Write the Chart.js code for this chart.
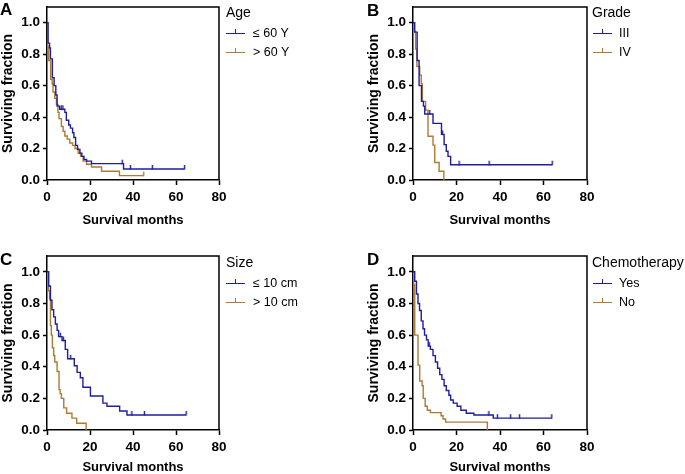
<!DOCTYPE html>
<html>
<head>
<meta charset="utf-8">
<script src="https://cdn.jsdelivr.net/npm/chart.js@4"></script>
<style>
  html,body{margin:0;padding:0;background:#fff;}
  body{width:685px;height:474px;position:relative;overflow:hidden;font-family:"Liberation Sans",Arial,sans-serif;}
  canvas{position:absolute;}
  .letter{position:absolute;font-weight:bold;font-size:17px;line-height:17px;color:#000;}
  .lgTitle{position:absolute;font-size:14px;line-height:16px;color:#000;white-space:nowrap;}
  .lgItem{position:absolute;font-size:12.5px;line-height:16px;color:#000;white-space:nowrap;}
  .lgLine{position:absolute;height:0;border-top:1.3px solid;}
  .lgTick{position:absolute;width:0;border-left:1.3px solid;height:4px;}
</style>
</head>
<body>
<script>
// ---------------- DATA ----------------
const xTicks = [0, 20, 40, 60, 80];
const yTicks = [0, 0.2, 0.4, 0.6, 0.8, 1.0];
const xTitle = "Survival months";
const yTitle = "Surviving fraction";

// Panel A: Age
const ageLowTime = [0, 0.5, 1.2, 1.6, 2.5, 3.3, 4.1, 4.7, 5.9, 6.6, 7.4, 8.3, 9.0, 10.1, 10.9, 11.9, 12.5, 13.3, 14.2, 15.3, 16.2, 17.2, 18.4, 20.7, 35.0, 35.6, 38.8, 49.0, 64.0];
const ageLowSurv = [1, 0.87, 0.84, 0.77, 0.65, 0.60, 0.54, 0.47, 0.45, 0.45, 0.45, 0.43, 0.38, 0.35, 0.33, 0.30, 0.27, 0.22, 0.195, 0.17, 0.15, 0.13, 0.12, 0.104, 0.104, 0.07, 0.07, 0.07, 0.07];
const ageLowCens = [0,0,0,0,0, 0,0,0,0,1, 1,0,0,0,0, 0,0,0,0,0, 0,0,0,0,1, 0,1,1,1];
const ageHighTime = [0, 0.3, 0.8, 1.7, 2.4, 2.8, 3.6, 4.4, 5.1, 5.6, 6.7, 7.5, 8.3, 9.4, 10.6, 11.9, 13.0, 14.5, 15.6, 16.8, 18.4, 20.7, 25.4, 33.7, 45.0];
const ageHighSurv = [1, 0.85, 0.76, 0.64, 0.61, 0.56, 0.52, 0.48, 0.43, 0.39, 0.34, 0.31, 0.28, 0.26, 0.235, 0.22, 0.20, 0.17, 0.15, 0.12, 0.10, 0.083, 0.056, 0.028, 0.028];
const ageHighCens = [0,0,0,0,0, 0,0,0,0,0, 0,0,0,0,0, 0,0,0,0,0, 0,0,0,0,1];

// Panel B: Grade
const gradeIIITime = [0, 0.8, 1.9, 2.8, 3.9, 4.8, 5.4, 7.7, 9.2, 13.1, 13.6, 14.3, 15.3, 16.1, 17.3, 21.2, 35.0, 64.0];
const gradeIIISurv = [1, 0.94, 0.76, 0.6, 0.5, 0.47, 0.42, 0.42, 0.36, 0.29, 0.29, 0.225, 0.183, 0.15, 0.097, 0.097, 0.097, 0.097];
const gradeIIICens = [0,0,0,0,0,0,0,1,0,0,1,0,0,0,0,1,1,1];
const gradeIVTime = [0, 0.5, 1.2, 1.8, 3.1, 3.8, 4.3, 5.8, 6.9, 9.2, 10.0, 12.0, 14.2];
const gradeIVSurv = [1, 0.944, 0.833, 0.722, 0.667, 0.611, 0.5, 0.444, 0.278, 0.222, 0.111, 0.056, 0];
const gradeIVCens = [0,0,0,0,0,0,0,0,0,0,0,0,0];

// Panel C: Size
const sizeSmallTime = [0, 0.8, 1.6, 2.3, 3.1, 3.9, 4.7, 5.4, 6.2, 7.0, 7.6, 8.5, 9.6, 11.0, 12.7, 14.0, 15.5, 16.7, 20.2, 26.0, 27.9, 33.8, 37.2, 39.5, 45.3, 64.7];
const sizeSmallSurv = [1, 0.91, 0.82, 0.76, 0.715, 0.67, 0.63, 0.59, 0.59, 0.566, 0.566, 0.51, 0.45, 0.45, 0.406, 0.364, 0.33, 0.27, 0.215, 0.17, 0.15, 0.12, 0.095, 0.095, 0.095, 0.095];
const sizeSmallCens = [0,0,0,0,0, 0,0,0,1,0, 1,0,0,1,0, 0,0,0,0,0, 0,0,0,1,1, 1];
const sizeLargeTime = [0, 0.6, 1.2, 1.6, 2.0, 2.5, 3.1, 3.6, 4.7, 5.6, 6.1, 6.7, 7.8, 9.1, 11.6, 13.8, 18.2];
const sizeLargeSurv = [1, 0.88, 0.83, 0.66, 0.6, 0.52, 0.47, 0.43, 0.37, 0.255, 0.23, 0.2, 0.14, 0.106, 0.075, 0.043, 0];
const sizeLargeCens = [0,0,0,0,0,0,0,0,0,0,0,0,0,0,0,0,0];

// Panel D: Chemotherapy
const chemoYesTime = [0, 0.8, 1.6, 2.3, 3.0, 3.8, 4.6, 5.3, 6.2, 7.0, 7.5, 8.0, 9.2, 10.3, 11.3, 12.3, 13.3, 14.3, 15.3, 16.5, 17.3, 18.5, 20.3, 22.0, 24.5, 28.0, 34.9, 36.9, 38.8, 44.9, 49.0, 63.8];
const chemoYesSurv = [1, 0.94, 0.86, 0.8, 0.755, 0.69, 0.64, 0.6, 0.57, 0.53, 0.53, 0.51, 0.47, 0.43, 0.39, 0.35, 0.32, 0.28, 0.25, 0.22, 0.19, 0.17, 0.15, 0.125, 0.106, 0.095, 0.095, 0.075, 0.075, 0.075, 0.075, 0.075];
const chemoYesCens = [0,0,0,0,0, 0,0,0,0,0, 1,0,0,0,0, 0,0,0,0,0, 0,0,0,0,0, 0,1,0,1,1, 1,1];
const chemoNoTime = [0, 0.3, 0.8, 2.3, 3.1, 4.2, 4.7, 5.6, 6.6, 8.0, 12.9, 13.8, 15.0, 34.2];
const chemoNoSurv = [1, 0.92, 0.6, 0.41, 0.31, 0.28, 0.2, 0.15, 0.125, 0.11, 0.09, 0.07, 0.05, 0];
const chemoNoCens = [0,0,0,0,0,0,0,0,0,0,0,0,0,0];

const panelLetters = ["A", "B", "C", "D"];
const legendTitles = ["Age", "Grade", "Size", "Chemotherapy"];
const legendLabels = [["\u2264 60 Y", "> 60 Y"], ["III", "IV"], ["\u2264 10 cm", "> 10 cm"], ["Yes", "No"]];

// ---------------- STYLE / LAYOUT ----------------
const BLUE = "#1e1ea0";
const BROWN = "#b07a30";
const FONT = "'Liberation Sans', Arial, sans-serif";

function tickImage(color) {
  const c = document.createElement("canvas");
  c.width = 3; c.height = 10;
  const g = c.getContext("2d");
  g.strokeStyle = color; g.lineWidth = 1.4;
  g.beginPath(); g.moveTo(1.5, 1); g.lineTo(1.5, 5.5); g.stroke();
  return c;
}
const tickBlue = tickImage(BLUE);
const tickBrown = tickImage(BROWN);

function series(time, surv, cens, color, img) {
  return {
    data: time.map((t, i) => ({x: t, y: surv[i]})),
    borderColor: color,
    backgroundColor: color,
    borderWidth: 1.4,
    stepped: 'before',
    fill: false,
    clip: false,
    pointStyle: img,
    pointRadius: ctx => cens[ctx.dataIndex] ? 2 : 0,
    pointHoverRadius: 0
  };
}

const boxPlugin = {
  id: 'boxBorder',
  afterDatasetsDraw(chart) {
    const a = chart.chartArea, g = chart.ctx;
    g.save();
    g.strokeStyle = '#000'; g.lineWidth = 1.5;
    g.beginPath();
    g.moveTo(a.left, a.top); g.lineTo(a.right, a.top); g.lineTo(a.right, a.bottom);
    g.stroke();
    g.restore();
  }
};

const panels = [
  {left: 0,   top: 0,   width: 232, height: 235, xh: 55, sets: [[ageLowTime, ageLowSurv, ageLowCens], [ageHighTime, ageHighSurv, ageHighCens]], lg: {x: 226, y: 0, lx: 226, tx: 253}, letter: {x: 0, y: 1}},
  {left: 366, top: 0,   width: 234, height: 235, xh: 55, sets: [[gradeIIITime, gradeIIISurv, gradeIIICens], [gradeIVTime, gradeIVSurv, gradeIVCens]], lg: {x: 592, y: 0, lx: 593, tx: 619}, letter: {x: 367, y: 2}},
  {left: 0,   top: 249, width: 232, height: 233, xh: 52, sets: [[sizeSmallTime, sizeSmallSurv, sizeSmallCens], [sizeLargeTime, sizeLargeSurv, sizeLargeCens]], lg: {x: 226, y: 250, lx: 226, tx: 253}, letter: {x: 0, y: 251}},
  {left: 366, top: 249, width: 234, height: 233, xh: 52, sets: [[chemoYesTime, chemoYesSurv, chemoYesCens], [chemoNoTime, chemoNoSurv, chemoNoCens]], lg: {x: 592, y: 250, lx: 593, tx: 619}, letter: {x: 367, y: 251}}
];

panels.forEach((p, idx) => {
  const cv = document.createElement('canvas');
  cv.width = p.width; cv.height = p.height;
  cv.style.left = p.left + 'px'; cv.style.top = p.top + 'px';
  cv.style.width = p.width + 'px'; cv.style.height = p.height + 'px';
  document.body.appendChild(cv);

  new Chart(cv, {
    type: 'line',
    data: {
      datasets: [
        series(p.sets[0][0], p.sets[0][1], p.sets[0][2], BLUE, tickBlue),
        series(p.sets[1][0], p.sets[1][1], p.sets[1][2], BROWN, tickBrown)
      ]
    },
    options: {
      responsive: false,
      animation: false,
      devicePixelRatio: 1,
      events: [],
      layout: {padding: {top: 7, right: 13, left: 0, bottom: 0}},
      plugins: {legend: {display: false}, tooltip: {enabled: false}},
      scales: {
        x: {
          type: 'linear', min: 0, max: 80,
          afterBuildTicks: s => { s.ticks = xTicks.map(v => ({value: v})); },
          afterFit: s => { s.height = p.xh; },
          grid: {drawOnChartArea: false, drawTicks: true, tickLength: 5, tickWidth: 1.5, tickColor: '#000'},
          border: {display: true, color: '#000', width: 1.5},
          ticks: {color: '#000', padding: 4, maxRotation: 0, font: {family: FONT, size: 13.5, weight: 'bold'}},
          title: {display: true, text: xTitle, color: '#000', padding: {top: 0, bottom: 7}, font: {family: FONT, size: 13, weight: 'bold'}}
        },
        y: {
          type: 'linear', min: 0, max: 1.1,
          afterBuildTicks: s => { s.ticks = yTicks.map(v => ({value: v})); },
          afterFit: s => { s.width = 47; s.paddingTop = 0; s.paddingBottom = 0; },
          grid: {drawOnChartArea: false, drawTicks: true, tickLength: 4, tickWidth: 1.5, tickColor: '#000'},
          border: {display: true, color: '#000', width: 1.5},
          ticks: {color: '#000', padding: 3, font: {family: FONT, size: 13.5, weight: 'bold'}, callback: v => Number(v).toFixed(1)},
          title: {display: true, text: yTitle, color: '#000', padding: {top: 0, bottom: 0}, font: {family: FONT, size: 14, weight: 'bold'}}
        }
      }
    },
    plugins: [boxPlugin]
  });

  // panel letter
  const L = document.createElement('div');
  L.className = 'letter'; L.textContent = panelLetters[idx];
  L.style.left = p.letter.x + 'px'; L.style.top = p.letter.y + 'px';
  document.body.appendChild(L);

  // legend
  const T = document.createElement('div');
  T.className = 'lgTitle'; T.textContent = legendTitles[idx];
  T.style.left = p.lg.x + 'px'; T.style.top = (p.lg.y + 4) + 'px';
  document.body.appendChild(T);
  [BLUE, BROWN].forEach((col, k) => {
    const cy = p.lg.y + 32.5 + k * 19;
    const ln = document.createElement('div');
    ln.className = 'lgLine';
    ln.style.left = p.lg.lx + 'px'; ln.style.top = cy + 'px'; ln.style.width = '19px'; ln.style.borderColor = col;
    document.body.appendChild(ln);
    const tk = document.createElement('div');
    tk.className = 'lgTick';
    tk.style.left = (p.lg.lx + 9) + 'px'; tk.style.top = (cy - 4) + 'px'; tk.style.borderColor = col;
    document.body.appendChild(tk);
    const tx = document.createElement('div');
    tx.className = 'lgItem'; tx.textContent = legendLabels[idx][k];
    tx.style.left = p.lg.tx + 'px'; tx.style.top = (cy - 8) + 'px';
    document.body.appendChild(tx);
  });
});
</script>
</body>
</html>
